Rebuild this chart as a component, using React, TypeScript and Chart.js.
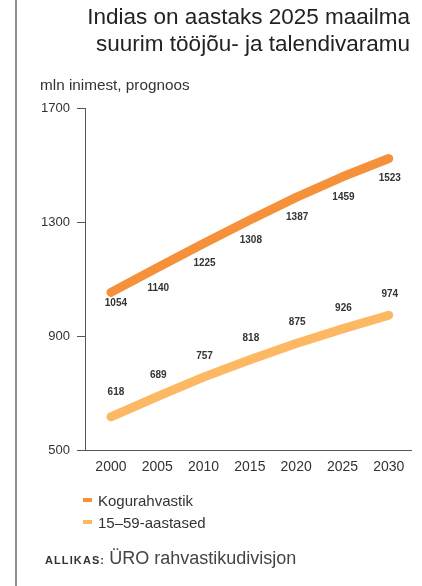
import React, { useEffect, useRef } from "react";
import { Chart, registerables } from "chart.js";

Chart.register(...registerables);

const years = [2000, 2005, 2010, 2015, 2020, 2025, 2030];
const totalPop = [1054, 1140, 1225, 1308, 1387, 1459, 1523];
const workingAge = [618, 689, 757, 818, 875, 926, 974];
const yTicks = [500, 900, 1300, 1700];
const seriesNames = ["Kogurahvastik", "15–59-aastased"];
const seriesColors = ["#F5913A", "#FDB863"];

const FONT = "'Liberation Sans', Arial, Helvetica, sans-serif";

const valueLabels = {
  id: "valueLabels",
  afterDatasetsDraw(chart: any) {
    const ctx = chart.ctx;
    ctx.save();
    ctx.font = `bold 10px ${FONT}`;
    ctx.fillStyle = "#333";
    ctx.textAlign = "center";
    ctx.textBaseline = "middle";
    chart.data.datasets.forEach((ds: any, di: number) => {
      const meta = chart.getDatasetMeta(di);
      meta.data.forEach((pt: any, i: number) => {
        const v = ds.data[i].y;
        const dy = i === 0 ? ds.firstLabelOffset : ds.labelOffset;
        const dx = i === 0 ? 5 : 1;
        ctx.fillText(String(v), pt.x + dx, pt.y + dy);
      });
    });
    ctx.restore();
  },
};

export default function App() {
  const ref = useRef<HTMLCanvasElement | null>(null);

  useEffect(() => {
    if (!ref.current) return;
    const chart = new Chart(ref.current, {
      type: "line",
      data: {
        datasets: [
          {
            label: seriesNames[0],
            data: years.map((y, i) => ({ x: y, y: totalPop[i] })),
            borderColor: seriesColors[0],
            backgroundColor: seriesColors[0],
            borderWidth: 9,
            borderCapStyle: "round",
            borderJoinStyle: "round",
            pointRadius: 0,
            tension: 0,
            clip: false,
            labelOffset: 20,
            firstLabelOffset: 11,
          } as any,
          {
            label: seriesNames[1],
            data: years.map((y, i) => ({ x: y, y: workingAge[i] })),
            borderColor: seriesColors[1],
            backgroundColor: seriesColors[1],
            borderWidth: 9,
            borderCapStyle: "round",
            borderJoinStyle: "round",
            pointRadius: 0,
            tension: 0,
            clip: false,
            labelOffset: -21,
            firstLabelOffset: -25,
          } as any,
        ],
      },
      options: {
        animation: false,
        responsive: false,
        devicePixelRatio: 1,
        layout: { padding: { left: 0, top: 108, right: 11, bottom: 105.5 } },
        plugins: { legend: { display: false }, tooltip: { enabled: false } },
        scales: {
          x: {
            type: "linear",
            min: 1997.2,
            max: 2032.4,
            afterBuildTicks: (s: any) => {
              s.ticks = years.map((v) => ({ value: v }));
            },
            afterFit: (s: any) => {
              s.height = 30;
            },
            ticks: {
              color: "#333",
              font: { family: FONT, size: 14 },
              padding: 8,
              maxRotation: 0,
              autoSkip: false,
              callback: (v: any) => String(v),
            },
            grid: { display: false, drawTicks: false },
            border: { display: true, color: "#555", width: 1 },
          },
          y: {
            type: "linear",
            min: 500,
            max: 1700,
            afterBuildTicks: (s: any) => {
              s.ticks = yTicks.map((v) => ({ value: v }));
            },
            afterFit: (s: any) => {
              s.width = 85;
            },
            ticks: {
              color: "#333",
              font: { family: FONT, size: 13 },
              padding: 7,
              callback: (v: any) => String(v),
            },
            grid: {
              display: true,
              drawOnChartArea: false,
              drawTicks: true,
              tickLength: 8,
              color: "#555",
            },
            border: { display: true, color: "#555", width: 1 },
          },
        },
      } as any,
      plugins: [valueLabels],
    });
    return () => chart.destroy();
  }, []);

  return (
    <div
      style={{
        position: "absolute",
        left: 0,
        top: 0,
        width: 422,
        height: 586,
        background: "#fff",
        fontFamily: FONT,
        color: "#333",
        overflow: "hidden",
      }}
    >
      <canvas
        ref={ref}
        width={422}
        height={586}
        style={{ position: "absolute", left: 0, top: 0, width: 422, height: 586, display: "block" }}
      />
      <div
        style={{
          position: "absolute",
          left: 15,
          top: 0,
          width: 2,
          height: 586,
          background: "#8c8c8c",
        }}
      />
      <div
        style={{
          position: "absolute",
          right: 12,
          top: 3,
          textAlign: "right",
          fontSize: 22.5,
          lineHeight: "27px",
          color: "#222",
          whiteSpace: "nowrap",
        }}
      >
        <div>Indias on aastaks 2025 maailma</div>
        <div>suurim tööjõu- ja talendivaramu</div>
      </div>
      <div
        style={{
          position: "absolute",
          left: 40,
          top: 76,
          fontSize: 15.3,
          lineHeight: "18px",
          color: "#333",
          whiteSpace: "nowrap",
        }}
      >
        mln inimest, prognoos
      </div>
      {seriesNames.map((name, i) => (
        <div
          key={name}
          style={{
            position: "absolute",
            left: 83,
            top: 491 + i * 22,
            height: 18,
            display: "flex",
            alignItems: "center",
            fontSize: 15,
            color: "#333",
            whiteSpace: "nowrap",
          }}
        >
          <span
            style={{
              display: "inline-block",
              width: 9,
              height: 4,
              background: seriesColors[i],
              marginRight: 6,
            }}
          />
          {name}
        </div>
      ))}
      <div
        style={{
          position: "absolute",
          left: 45,
          top: 548,
          whiteSpace: "nowrap",
          display: "flex",
          alignItems: "baseline",
        }}
      >
        <span style={{ fontSize: 11, fontWeight: "bold", color: "#333", letterSpacing: 1.1 }}>
          ALLIKAS:
        </span>
        <span style={{ fontSize: 18, color: "#444", marginLeft: 4 }}>ÜRO rahvastikudivisjon</span>
      </div>
    </div>
  );
}
